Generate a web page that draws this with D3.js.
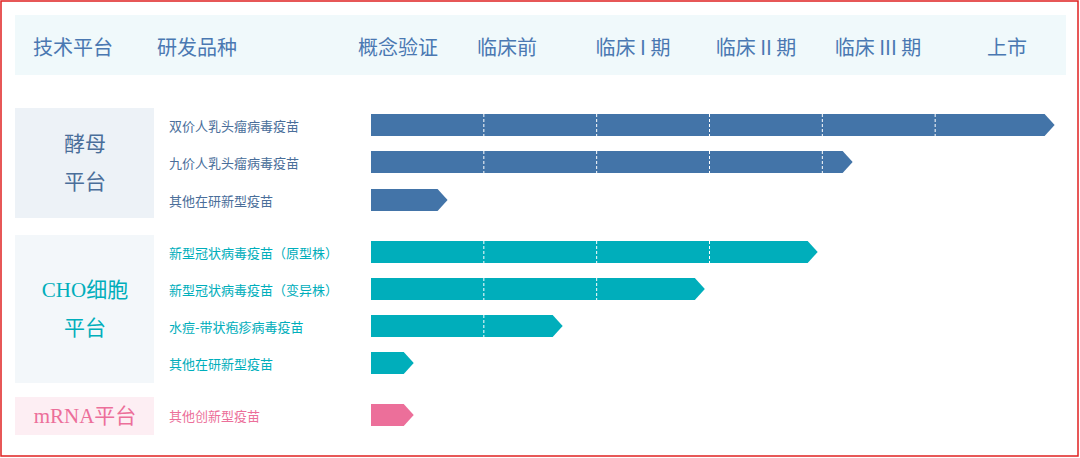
<!DOCTYPE html><html><head><meta charset="utf-8"><script src="https://d3js.org/d3.v7.min.js"></script>
<style>body{margin:0;background:#fff}</style></head><body><svg id="c" width="1080" height="458"></svg>
<script>
const stages=["概念验证","临床前","临床 I 期","临床 II 期","临床 III 期","上市"];
const stageX=[398,507,633,756,878,1007];
const platforms=["酵母\n平台","CHO细胞\n平台","mRNA平台"];
const platformColors=["#4374a8","#00aebb","#ec6f9a"];
const platformBg=["#edf2f7","#f3f7fa","#fdeef3"];
const items=["双价人乳头瘤病毒疫苗","九价人乳头瘤病毒疫苗","其他在研新型疫苗","新型冠状病毒疫苗（原型株）","新型冠状病毒疫苗（变异株）","水痘-带状疱疹病毒疫苗","其他在研新型疫苗","其他创新型疫苗"];
const itemPlatform=[0,0,0,1,1,1,1,2];
const progress=[5.97,4.18,0.59,3.87,2.87,1.61,0.29,0.29];
const rowY=[125,162,200,252,289,326,363,415];
const boxes=[[108,218],[235,383],[397,435]];
const svg=d3.select("#c");
const font="'Noto Sans CJK SC',sans-serif";
svg.append("rect").attr("x",1).attr("y",1).attr("width",1077).attr("height",455).attr("fill","none").attr("stroke","#e02020").attr("stroke-width",1.5);
svg.append("rect").attr("x",15).attr("y",15).attr("width",1051).attr("height",60).attr("fill","#f0f9fb");
const hc="#4a78b2";
[["技术平台",73],["研发品种",197]].concat(stages.map((s,i)=>[s,stageX[i]])).forEach(([t,x])=>{
 svg.append("text").attr("x",x).attr("y",46).attr("text-anchor","middle").attr("dominant-baseline","central").attr("font-family",font).attr("font-size",20).attr("fill",hc).text(t);});
const x=d3.scaleLinear().domain([0,6]).range([371,1048]);
const bh=22;
boxes.forEach((b,i)=>{
 svg.append("rect").attr("x",15).attr("y",b[0]).attr("width",139).attr("height",b[1]-b[0]).attr("fill",platformBg[i]);
 const lines=platforms[i].split("\n"); const cy=(b[0]+b[1])/2;
 lines.forEach((l,j)=>svg.append("text").attr("x",85).attr("y",cy+(j-(lines.length-1)/2)*38).attr("text-anchor","middle").attr("dominant-baseline","central")
  .attr("font-family","'Liberation Serif','Noto Sans CJK SC',serif").attr("font-size",21).attr("fill",i==0?"#4a6e9a":platformColors[i]).text(l));
});
items.forEach((t,i)=>{
 const c=platformColors[itemPlatform[i]], y=rowY[i];
 svg.append("text").attr("x",169).attr("y",y).attr("dominant-baseline","central").attr("font-family",font).attr("font-size",13).attr("fill",i<3?"#4a6e9a":c).text(t);
 const x0=x(0),x1=x(progress[i]);
 svg.append("path").attr("d",`M${x0},${y-bh/2}L${x1},${y-bh/2}L${x1+10},${y}L${x1},${y+bh/2}L${x0},${y+bh/2}Z`).attr("fill",c);
 for(let k=1;k<6;k++){ if(x(k)<x1) svg.append("line").attr("x1",x(k)).attr("x2",x(k)).attr("y1",y-bh/2).attr("y2",y+bh/2).attr("stroke","#fff").attr("stroke-width",1).attr("stroke-dasharray","3,2");}
});
</script></body></html>
